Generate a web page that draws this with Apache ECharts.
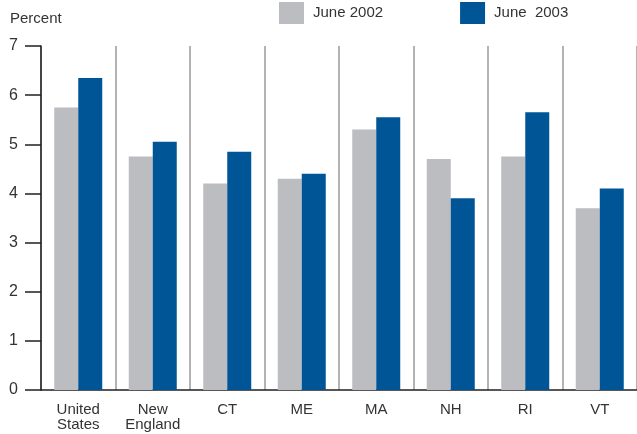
<!DOCTYPE html>
<html>
<head>
<meta charset="utf-8">
<script src="https://cdn.jsdelivr.net/npm/echarts@6/dist/echarts.min.js"></script>
<style>
  html, body { margin: 0; padding: 0; background: #fff; }
  #chart { width: 637px; height: 434px; }
</style>
</head>
<body>
<div id="chart"></div>
<script>
// categories and values
var categories = ['United\nStates', 'New\nEngland', 'CT', 'ME', 'MA', 'NH', 'RI', 'VT'];
var june2002 = [5.75, 4.75, 4.2, 4.3, 5.3, 4.7, 4.75, 3.7];
var june2003 = [6.35, 5.05, 4.85, 4.4, 5.55, 3.9, 5.65, 4.1];
var yTicks = { min: 0, max: 7, interval: 1 };

var font = '"Liberation Sans", Arial, sans-serif';
var chart = echarts.init(document.getElementById('chart'));
chart.setOption({
  animation: false,
  title: {
    text: 'Percent',
    left: 5,
    top: 6,
    textStyle: { fontFamily: font, fontSize: 15, fontWeight: 'normal', color: '#333' }
  },
  legend: {
    left: 279,
    top: 2,
    padding: 0,
    itemWidth: 25,
    itemHeight: 22,
    itemGap: 77,
    textStyle: { fontFamily: font, fontSize: 15, color: '#333', padding: [0, 0, 0, 4] },
    data: [
      { name: 'June 2002', icon: 'rect' },
      { name: 'June  2003', icon: 'rect' }
    ]
  },
  grid: {
    left: 41,
    right: 0,
    top: 46,
    bottom: 44
  },
  xAxis: {
    type: 'category',
    data: categories,
    axisLine: { show: true, lineStyle: { color: '#231f20', width: 1.5 } },
    axisTick: { show: false },
    axisLabel: {
      margin: 12,
      fontFamily: font,
      fontSize: 15,
      lineHeight: 15,
      color: '#333',
      interval: 0
    },
    splitLine: {
      show: true,
      lineStyle: { color: '#9a9a9a', width: 1.5 }
    }
  },
  yAxis: {
    type: 'value',
    min: yTicks.min,
    max: yTicks.max,
    interval: yTicks.interval,
    axisLine: { show: true, lineStyle: { color: '#231f20', width: 1.5 } },
    axisTick: { show: true, inside: false, length: 16, lineStyle: { color: '#231f20', width: 1.5 } },
    axisLabel: {
      margin: 23,
      fontFamily: font,
      fontSize: 16,
      color: '#333'
    },
    splitLine: { show: false }
  },
  series: [
    {
      name: 'June 2002',
      type: 'bar',
      barWidth: 24,
      barGap: '0%',
      itemStyle: { color: '#bcbdc1' },
      data: june2002
    },
    {
      name: 'June  2003',
      type: 'bar',
      barWidth: 24,
      barGap: '0%',
      itemStyle: { color: '#005596' },
      data: june2003
    }
  ]
});
</script>
</body>
</html>
